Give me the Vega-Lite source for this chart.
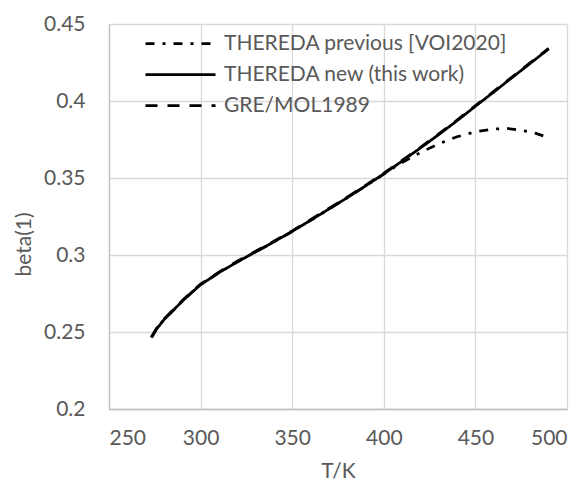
{
  "$schema": "https://vega.github.io/schema/vega-lite/v6.json",
  "width": 458,
  "height": 385,
  "autosize": "none",
  "padding": {"left": 109, "top": 24, "right": 21, "bottom": 81},
  "background": "white",
  "config": {
    "view": {"stroke": null},
    "font": "Lato",
    "axis": {
      "gridColor": "#d9d9d9",
      "gridWidth": 1.3,
      "domainColor": "#bfbfbf",
      "domainWidth": 1.3,
      "ticks": false,
      "labelColor": "#595959",
      "labelFontSize": 21,
      "labelFont": "Lato",
      "titleColor": "#595959",
      "titleFontSize": 21,
      "titleFont": "Lato",
      "titleFontWeight": "normal"
    }
  },
  "data": {
    "values": [
      {"series": "THEREDA previous [VOI2020]", "T": 273.15, "beta": 0.2464},
      {"series": "THEREDA previous [VOI2020]", "T": 276, "beta": 0.252},
      {"series": "THEREDA previous [VOI2020]", "T": 280, "beta": 0.258},
      {"series": "THEREDA previous [VOI2020]", "T": 285, "beta": 0.264},
      {"series": "THEREDA previous [VOI2020]", "T": 290, "beta": 0.27},
      {"series": "THEREDA previous [VOI2020]", "T": 295, "beta": 0.2755},
      {"series": "THEREDA previous [VOI2020]", "T": 300, "beta": 0.2807},
      {"series": "THEREDA previous [VOI2020]", "T": 310, "beta": 0.2885},
      {"series": "THEREDA previous [VOI2020]", "T": 320, "beta": 0.2955},
      {"series": "THEREDA previous [VOI2020]", "T": 330, "beta": 0.302},
      {"series": "THEREDA previous [VOI2020]", "T": 340, "beta": 0.3085},
      {"series": "THEREDA previous [VOI2020]", "T": 350, "beta": 0.3153},
      {"series": "THEREDA previous [VOI2020]", "T": 360, "beta": 0.3225},
      {"series": "THEREDA previous [VOI2020]", "T": 370, "beta": 0.3298},
      {"series": "THEREDA previous [VOI2020]", "T": 380, "beta": 0.3372},
      {"series": "THEREDA previous [VOI2020]", "T": 390, "beta": 0.3448},
      {"series": "THEREDA previous [VOI2020]", "T": 400, "beta": 0.3525},
      {"series": "THEREDA previous [VOI2020]", "T": 405, "beta": 0.3564},
      {"series": "THEREDA previous [VOI2020]", "T": 410, "beta": 0.36},
      {"series": "THEREDA previous [VOI2020]", "T": 416, "beta": 0.364},
      {"series": "THEREDA previous [VOI2020]", "T": 420, "beta": 0.3665},
      {"series": "THEREDA previous [VOI2020]", "T": 430, "beta": 0.3722},
      {"series": "THEREDA previous [VOI2020]", "T": 440, "beta": 0.3768},
      {"series": "THEREDA previous [VOI2020]", "T": 450, "beta": 0.38},
      {"series": "THEREDA previous [VOI2020]", "T": 460, "beta": 0.3818},
      {"series": "THEREDA previous [VOI2020]", "T": 467, "beta": 0.3822},
      {"series": "THEREDA previous [VOI2020]", "T": 475, "beta": 0.381},
      {"series": "THEREDA previous [VOI2020]", "T": 483, "beta": 0.379},
      {"series": "THEREDA previous [VOI2020]", "T": 490, "beta": 0.3762},
      {"series": "THEREDA new (this work)", "T": 273.15, "beta": 0.2464},
      {"series": "THEREDA new (this work)", "T": 276, "beta": 0.252},
      {"series": "THEREDA new (this work)", "T": 280, "beta": 0.258},
      {"series": "THEREDA new (this work)", "T": 285, "beta": 0.264},
      {"series": "THEREDA new (this work)", "T": 290, "beta": 0.27},
      {"series": "THEREDA new (this work)", "T": 295, "beta": 0.2755},
      {"series": "THEREDA new (this work)", "T": 300, "beta": 0.2807},
      {"series": "THEREDA new (this work)", "T": 310, "beta": 0.2885},
      {"series": "THEREDA new (this work)", "T": 320, "beta": 0.2955},
      {"series": "THEREDA new (this work)", "T": 330, "beta": 0.302},
      {"series": "THEREDA new (this work)", "T": 340, "beta": 0.3085},
      {"series": "THEREDA new (this work)", "T": 350, "beta": 0.3153},
      {"series": "THEREDA new (this work)", "T": 360, "beta": 0.3225},
      {"series": "THEREDA new (this work)", "T": 370, "beta": 0.3298},
      {"series": "THEREDA new (this work)", "T": 380, "beta": 0.3372},
      {"series": "THEREDA new (this work)", "T": 390, "beta": 0.3448},
      {"series": "THEREDA new (this work)", "T": 400, "beta": 0.3527},
      {"series": "THEREDA new (this work)", "T": 410, "beta": 0.361},
      {"series": "THEREDA new (this work)", "T": 420, "beta": 0.3695},
      {"series": "THEREDA new (this work)", "T": 430, "beta": 0.3782},
      {"series": "THEREDA new (this work)", "T": 440, "beta": 0.3872},
      {"series": "THEREDA new (this work)", "T": 450, "beta": 0.3966},
      {"series": "THEREDA new (this work)", "T": 460, "beta": 0.4058},
      {"series": "THEREDA new (this work)", "T": 470, "beta": 0.4152},
      {"series": "THEREDA new (this work)", "T": 480, "beta": 0.4245},
      {"series": "THEREDA new (this work)", "T": 490, "beta": 0.4338},
      {"series": "GRE/MOL1989", "T": 273.15, "beta": 0.2468},
      {"series": "GRE/MOL1989", "T": 276, "beta": 0.2524},
      {"series": "GRE/MOL1989", "T": 280, "beta": 0.2584},
      {"series": "GRE/MOL1989", "T": 285, "beta": 0.2644},
      {"series": "GRE/MOL1989", "T": 290, "beta": 0.2704},
      {"series": "GRE/MOL1989", "T": 295, "beta": 0.2759},
      {"series": "GRE/MOL1989", "T": 300, "beta": 0.2811},
      {"series": "GRE/MOL1989", "T": 310, "beta": 0.2889},
      {"series": "GRE/MOL1989", "T": 320, "beta": 0.2959},
      {"series": "GRE/MOL1989", "T": 330, "beta": 0.3024},
      {"series": "GRE/MOL1989", "T": 340, "beta": 0.3089},
      {"series": "GRE/MOL1989", "T": 350, "beta": 0.3157},
      {"series": "GRE/MOL1989", "T": 360, "beta": 0.3229},
      {"series": "GRE/MOL1989", "T": 370, "beta": 0.3302},
      {"series": "GRE/MOL1989", "T": 380, "beta": 0.3376},
      {"series": "GRE/MOL1989", "T": 390, "beta": 0.3452},
      {"series": "GRE/MOL1989", "T": 400, "beta": 0.3531},
      {"series": "GRE/MOL1989", "T": 410, "beta": 0.3614},
      {"series": "GRE/MOL1989", "T": 420, "beta": 0.3699},
      {"series": "GRE/MOL1989", "T": 430, "beta": 0.3786},
      {"series": "GRE/MOL1989", "T": 440, "beta": 0.3876},
      {"series": "GRE/MOL1989", "T": 450, "beta": 0.397},
      {"series": "GRE/MOL1989", "T": 460, "beta": 0.4062},
      {"series": "GRE/MOL1989", "T": 470, "beta": 0.4156},
      {"series": "GRE/MOL1989", "T": 480, "beta": 0.4249},
      {"series": "GRE/MOL1989", "T": 490, "beta": 0.4342}
    ]
  },
  "mark": {"type": "line", "color": "black", "strokeWidth": 2.75, "clip": true},
  "encoding": {
    "x": {
      "field": "T", "type": "quantitative",
      "scale": {"domain": [250, 500], "nice": false, "zero": false},
      "axis": {"values": [250, 300, 350, 400, 450, 500], "title": "T/K", "labelPadding": 18, "titleBaseline": "alphabetic", "titleY": 68}
    },
    "y": {
      "field": "beta", "type": "quantitative",
      "scale": {"domain": [0.2, 0.45], "nice": false, "zero": false},
      "axis": {"values": [0.2, 0.25, 0.3, 0.35, 0.4, 0.45], "format": ".2~f", "title": "beta(1)", "labelPadding": 24, "titleBaseline": "middle", "titleX": -85, "titleY": 220}
    },
    "strokeDash": {
      "field": "series", "type": "nominal",
      "scale": {
        "domain": ["THEREDA previous [VOI2020]", "THEREDA new (this work)", "GRE/MOL1989"],
        "range": [[9, 8, 3, 8], [1, 0], [12, 10]]
      },
      "legend": {
        "title": null,
        "orient": "none",
        "legendX": 61,
        "legendY": 9,
        "symbolType": "M-5,0H5",
        "symbolSize": 196,
        "symbolStrokeWidth": 2.75,
        "symbolStrokeColor": "black",
        "symbolFillColor": "transparent",
        "labelFontSize": 21,
        "labelColor": "#595959",
        "labelFont": "Lato",
        "labelOffset": 33,
        "rowPadding": 9,
        "labelLimit": 500
      }
    }
  }
}
